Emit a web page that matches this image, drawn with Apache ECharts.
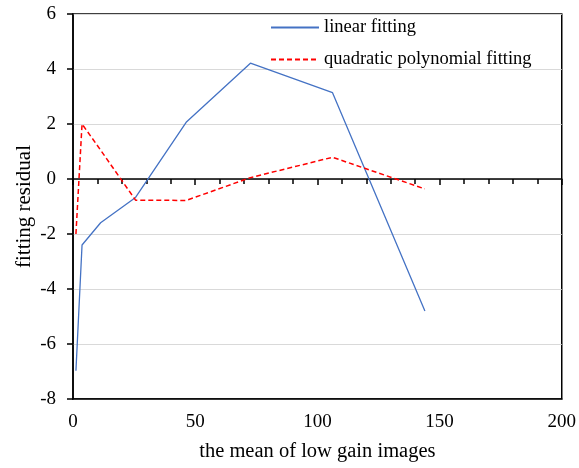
<!DOCTYPE html>
<html>
<head>
<meta charset="utf-8">
<script src="https://cdn.jsdelivr.net/npm/echarts@6/dist/echarts.min.js"></script>
<style>
  html, body { margin: 0; padding: 0; background: #fff; }
  #chart { width: 579px; height: 468px; }
</style>
</head>
<body>
<div id="chart"></div>
<script>
// Mean signal of the low gain images (x) and residuals of the two fits
const meanLevels = [1.2, 3.7, 11.3, 25.6, 46.3, 72.6, 106.2, 144.0];
const linearResidual = [-6.97, -2.4, -1.59, -0.67, 2.06, 4.21, 3.14, -4.8];
const quadraticResidual = [-2.0, 2.0, 1.05, -0.77, -0.78, 0.05, 0.79, -0.36];

const seriesNames = ['linear fitting', 'quadratic polynomial fitting'];
const xTicks = { min: 0, max: 200, step: 50 };
const yTicks = { min: -8, max: 6, step: 2 };

const FONT = '"Liberation Serif", "Times New Roman", serif';

function pairs(xs, ys) {
  return xs.map((x, i) => [x, ys[i]]);
}

const chart = echarts.init(document.getElementById('chart'), null, { renderer: 'canvas' });

chart.setOption({
  backgroundColor: '#ffffff',
  animation: false,
  grid: {
    left: 73, right: 16, top: 14, bottom: 69,
    show: true,
    borderColor: '#000000',
    borderWidth: 1.5,
    containLabel: false
  },
  legend: {
    orient: 'vertical',
    left: 265,
    top: 13,
    itemWidth: 48,
    itemHeight: 14,
    itemGap: 13,
    itemStyle: { opacity: 0 },
    textStyle: { fontFamily: FONT, fontSize: 18.5, color: '#000' },
    data: seriesNames
  },
  xAxis: [
    {
      type: 'value',
      min: xTicks.min, max: xTicks.max, interval: xTicks.step,
      position: 'bottom',
      name: 'the mean of low gain images',
      nameLocation: 'middle',
      nameGap: 42,
      nameMoveOverlap: false,
      nameTextStyle: { fontFamily: FONT, fontSize: 20.5, color: '#000' },
      axisLine: { show: true, onZero: false, lineStyle: { color: '#000', width: 1.5 } },
      axisTick: { show: false },
      axisLabel: { fontFamily: FONT, fontSize: 19, color: '#000', margin: 14 },
      splitLine: { show: false }
    },
    {
      // axis line drawn through y = 0 with its tick marks
      type: 'value',
      min: xTicks.min, max: xTicks.max, interval: xTicks.step,
      position: 'bottom',
      axisLine: { show: true, onZero: true, lineStyle: { color: '#000', width: 1.5 } },
      axisTick: { show: true, length: 6, lineStyle: { color: '#000', width: 1.5 } },
      minorTick: { show: true, splitNumber: 5, length: 5, lineStyle: { color: '#000', width: 1.5 } },
      axisLabel: { show: false },
      splitLine: { show: false }
    }
  ],
  yAxis: {
    type: 'value',
    min: yTicks.min, max: yTicks.max, interval: yTicks.step,
    name: 'fitting residual',
    nameLocation: 'middle',
    nameGap: 38,
    nameMoveOverlap: false,
    nameTextStyle: { fontFamily: FONT, fontSize: 21, color: '#000' },
    axisLine: { show: true, onZero: false, lineStyle: { color: '#000', width: 1.5 } },
    axisTick: { show: true, length: 6, lineStyle: { color: '#000', width: 1.5 } },
    axisLabel: { fontFamily: FONT, fontSize: 19, color: '#000', margin: 17 },
    splitLine: { show: true, lineStyle: { color: '#d9d9d9', width: 1 } }
  },
  series: [
    {
      name: seriesNames[0],
      type: 'line',
      xAxisIndex: 0,
      data: pairs(meanLevels, linearResidual),
      symbol: 'none',
      lineStyle: { color: '#4472C4', width: 1.3 },
      itemStyle: { color: '#4472C4' }
    },
    {
      name: seriesNames[1],
      type: 'line',
      xAxisIndex: 0,
      data: pairs(meanLevels, quadraticResidual),
      symbol: 'none',
      lineStyle: { color: '#FF0000', width: 1.5, type: [5, 3] },
      itemStyle: { color: '#FF0000' }
    }
  ]
});
</script>
</body>
</html>
